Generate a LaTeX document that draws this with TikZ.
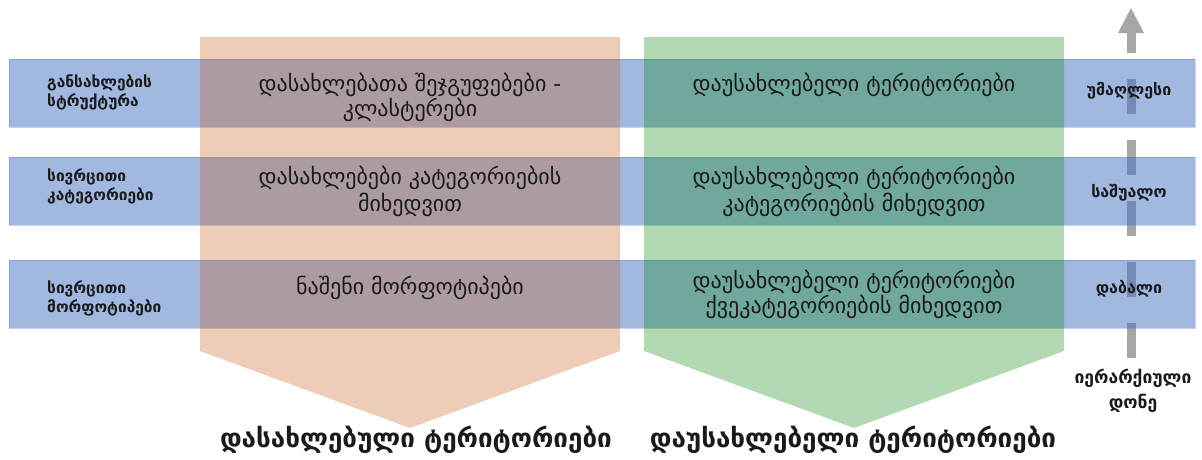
\documentclass[tikz,border=0pt]{standalone}
\usepackage{fontspec}
\newfontfamily\geo{DejaVu Sans}
\definecolor{bandblue}{HTML}{4472C4}
\definecolor{orangeP}{HTML}{C55A11}
\definecolor{greenP}{RGB}{0,130,0}
\definecolor{arrowgray}{HTML}{A6A6A6}
\definecolor{txt}{HTML}{1A1A1A}
\tikzset{
  band/.style={fill=bandblue, fill opacity=0.5, draw=bandblue, draw opacity=0.3, line width=1pt},
  pent/.style={fill opacity=0.3},
  midtxt/.style={font=\geo\fontsize{22}{26}\selectfont, text=txt, anchor=mid, inner sep=0pt, yshift=-4pt},
  lefttxt/.style={font=\geo\bfseries\fontsize{15.5}{18}\selectfont, text=txt, anchor=mid west, inner sep=0pt, yshift=-3pt},
  righttxt/.style={font=\geo\bfseries\fontsize{16}{18}\selectfont, text=txt, anchor=mid, inner sep=0pt, yshift=-3pt},
  hiertxt/.style={font=\geo\bfseries\fontsize{17.5}{20}\selectfont, text=txt, anchor=mid, inner sep=0pt, yshift=-3pt},
  bottxt/.style={font=\geo\bfseries\fontsize{26}{30}\selectfont, text=txt, anchor=mid, inner sep=0pt, yshift=-4.5pt},
}
\begin{document}
\begin{tikzpicture}[x=1pt,y=-1pt]
\useasboundingbox (0,0) rectangle (1202,459);
% hierarchy arrow
\coordinate (abot) at (1131,358);
\coordinate (atop) at (1131,33);
\draw[arrowgray, line width=9pt, dash pattern=on 35pt off 26pt] (abot) -- (atop);
\fill[arrowgray] (1118,33) -- (1131,8) -- (1144,33) -- cycle;
% bands
\path[band] (9,59) rectangle (1195,127);
\path[band] (9,157) rectangle (1195,225);
\path[band] (9,260) rectangle (1195,328);
% pentagons
\fill[orangeP, pent] (200,37) -- (620,37) -- (620,351) -- (410,428) -- (200,351) -- cycle;
\fill[greenP, pent] (644,37) -- (1064,37) -- (1064,351) -- (854,428) -- (644,351) -- cycle;
% left labels
\node[lefttxt] (l1a) at (47,82) {განსახლების};
\node[lefttxt] (l1b) at (47,101) {სტრუქტურა};
\node[lefttxt] (l2a) at (47,176) {სივრცითი};
\node[lefttxt] (l2b) at (47,195) {კატეგორიები};
\node[lefttxt] (l3a) at (47,288) {სივრცითი};
\node[lefttxt] (l3b) at (47,307) {მორფოტიპები};
% orange column
\node[midtxt] (o1a) at (410,85) {დასახლებათა შეჯგუფებები -};
\node[midtxt] (o1b) at (410,110) {კლასტერები};
\node[midtxt] (o2a) at (410,178) {დასახლებები კატეგორიების};
\node[midtxt] (o2b) at (410,205) {მიხედვით};
\node[midtxt] (o3a) at (410,288) {ნაშენი მორფოტიპები};
% green column
\node[midtxt] (g1a) at (854,85) {დაუსახლებელი ტერიტორიები};
\node[midtxt] (g2a) at (854,178) {დაუსახლებელი ტერიტორიები};
\node[midtxt] (g2b) at (854,205) {კატეგორიების მიხედვით};
\node[midtxt] (g3a) at (854,282) {დაუსახლებელი ტერიტორიები};
\node[midtxt] (g3b) at (854,307) {ქვეკატეგორიების მიხედვით};
% right labels
\node[righttxt] (r1) at (1129,90) {უმაღლესი};
\node[righttxt] (r2) at (1129,192) {საშუალო};
\node[righttxt] (r3) at (1129,288) {დაბალი};
\node[hiertxt] (r4a) at (1133,378) {იერარქიული};
\node[hiertxt] (r4b) at (1133,403) {დონე};
% bottom labels
\node[bottxt] (bl) at (416,441) {დასახლებული ტერიტორიები};
\node[bottxt] (br) at (853,441) {დაუსახლებელი ტერიტორიები};
\end{tikzpicture}
\end{document}
